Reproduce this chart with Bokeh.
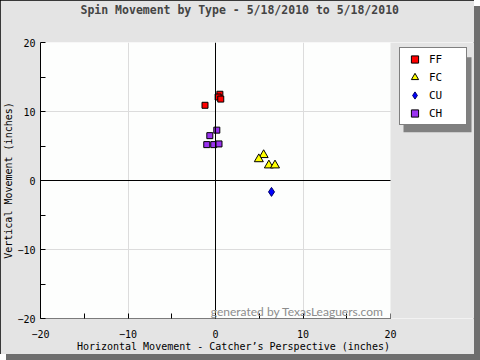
from bokeh.plotting import figure
from bokeh.models import Span, Label, Legend, LegendItem, FixedTicker, BoxAnnotation, Title
from bokeh.embed import file_html
from bokeh.resources import INLINE

title = "Spin Movement by Type - 5/18/2010 to 5/18/2010"
x_label = "Horizontal Movement - Catcher\u2019s Perspective (inches)"
y_label = "Vertical Movement (inches)"

ff_x = [0.5, 0.3, 0.6, -1.2]
ff_y = [12.5, 12.1, 11.8, 10.9]
fc_x = [5.5, 4.95, 6.1, 6.8]
fc_y = [3.7, 3.1, 2.2, 2.2]
cu_x = [6.4]
cu_y = [-1.65]
ch_x = [0.15, -0.65, -1.0, -0.2, 0.4]
ch_y = [7.3, 6.5, 5.2, 5.2, 5.3]

ticks = [-20, -10, 0, 10, 20]
minor = [-15, -5, 5, 15]
grid_ticks = [-10, 10]

MONO = "DejaVu Sans Mono"
BG = "#e4e4e4"

W, H = 474, 354
LEFT, TOP, BOTTOM = 40, 41, 33
PLOT_W = 350  # pixel width of the white plotting area (-20..20)
px_per_unit = PLOT_W / (ticks[-1] - ticks[0])
x_end = ticks[-1] + (W - LEFT - PLOT_W) / px_per_unit  # frame extends under the legend area

p = figure(width=W, height=H, x_range=(ticks[0], x_end), y_range=(ticks[0], ticks[-1]),
           output_backend="svg", toolbar_location=None,
           min_border_left=LEFT, min_border_right=0, min_border_top=TOP, min_border_bottom=BOTTOM)
p.title.text = title
p.title.text_font = MONO
p.title.text_font_size = "11.5px"
p.title.text_font_style = "bold"
p.title.align = "left"
p.title.offset = 40
p.title.standoff = 0

# blank spacer between the title and the plotting area (lifts the title up)
p.add_layout(Title(text=" ", text_font=MONO, text_font_size="10px", standoff=13), "above")

p.background_fill_color = "#fdfefd"
p.border_fill_color = BG
p.outline_line_color = None
p.styles = {"box-shadow": "inset 0 0 0 1px #000000, 6px 6px 0 0 #6e6e6e"}

for ax in (p.xaxis, p.yaxis):
    ax.ticker = FixedTicker(ticks=ticks, minor_ticks=minor)
    ax.axis_line_color = "black"
    ax.major_tick_in = 5
    ax.major_tick_out = 0
    ax.minor_tick_in = 5
    ax.minor_tick_out = 0
    ax.major_tick_line_color = "black"
    ax.minor_tick_line_color = "black"
    ax.major_label_text_font = MONO
    ax.major_label_text_font_size = "10px"
    ax.major_label_text_color = "black"
    ax.axis_label_text_font = MONO
    ax.axis_label_text_font_size = "10px"
    ax.axis_label_text_font_style = "normal"
    ax.axis_label_text_color = "black"

p.xaxis.axis_line_color = None
# trailing no-break spaces shift the centred label left, to sit under the white plot area
p.xaxis.axis_label = x_label + "\u00a0" * 8
p.yaxis.axis_label = y_label
p.xaxis.major_label_standoff = 11
p.xaxis.axis_label_standoff = 0
p.yaxis.major_label_standoff = 5
p.yaxis.axis_label_standoff = 0

p.xgrid.ticker = FixedTicker(ticks=grid_ticks)
p.ygrid.ticker = FixedTicker(ticks=grid_ticks)
p.xgrid.grid_line_color = "#dcdcdc"
p.ygrid.grid_line_color = "#dcdcdc"

# zero cross lines
p.add_layout(Span(location=0, dimension="height", line_color="black", line_width=1))
p.add_layout(Span(location=0, dimension="width", line_color="black", line_width=1))

# bottom axis line limited to the plotting region
p.segment(x0=[ticks[0]], y0=[ticks[0]], x1=[ticks[-1]], y1=[ticks[0]],
          line_color="black", line_width=1)

r_ff = p.scatter(ff_x, ff_y, marker="square", size=6, fill_color="#ff0000", line_color="#000000", line_width=1)
r_fc = p.scatter(fc_x, fc_y, marker="triangle", size=9, fill_color="#ffff00", line_color="#000000", line_width=1)
r_cu = p.scatter(cu_x, cu_y, marker="diamond", size=9, fill_color="#0000ff", line_color="#000066", line_width=1)
r_ch = p.scatter(ch_x, ch_y, marker="square", size=6, fill_color="#9a32f0", line_color="#000000", line_width=1)

p.add_layout(Label(x=19.2, y=-19.0, text="generated by TexasLeaguers.com", text_font="Lato",
                   text_font_size="12px", text_color="#8c8c8c", text_align="right",
                   text_baseline="alphabetic"))

# grey area to the right of the plotting region (drawn over grid / zero line there)
p.add_layout(BoxAnnotation(left=ticks[-1], fill_color=BG, fill_alpha=1.0, line_color=None, level="overlay"))

# legend box position in pixels (relative to the plotting frame)
LEG_X, LEG_TOP, LEG_W, LEG_H, SHADOW = 359, 11, 68, 76, 4
frame_h = H - TOP - BOTTOM
y_per_px = (ticks[-1] - ticks[0]) / frame_h
p.add_layout(BoxAnnotation(left=ticks[0] + (LEG_X + SHADOW) / px_per_unit,
                           right=ticks[0] + (LEG_X + LEG_W + SHADOW) / px_per_unit,
                           top=ticks[-1] - (LEG_TOP + SHADOW) * y_per_px,
                           bottom=ticks[-1] - (LEG_TOP + LEG_H + SHADOW) * y_per_px,
                           fill_color="#808080", fill_alpha=1.0, line_color=None, level="overlay"))

legend = Legend(items=[LegendItem(label="FF", renderers=[r_ff]),
                       LegendItem(label="FC", renderers=[r_fc]),
                       LegendItem(label="CU", renderers=[r_cu]),
                       LegendItem(label="CH", renderers=[r_ch])],
                location=(LEG_X, frame_h - LEG_TOP - LEG_H), glyph_width=25, glyph_height=18, spacing=0,
                padding=2, margin=0, label_standoff=2, label_width=35, label_height=10,
                label_text_font=MONO, label_text_font_size="11px", label_text_color="black",
                border_line_color="black", border_line_width=1,
                background_fill_color="white", background_fill_alpha=1.0, level="overlay")
p.add_layout(legend)

open("out.html", "w").write(file_html(p, INLINE))
